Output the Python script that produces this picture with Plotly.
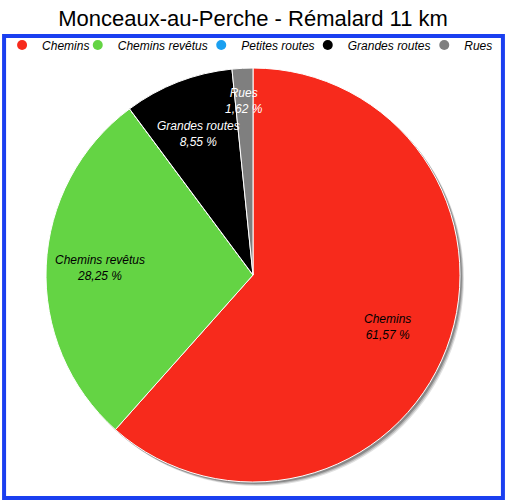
import math
import plotly.graph_objects as go

# données du parcours (pourcentages de la distance)
categories = ["Chemins", "Chemins revêtus", "Petites routes", "Grandes routes", "Rues"]
values = [61.57, 28.25, 0.0, 8.55, 1.62]
colors = ["#f72a1c", "#64d444", "#1a9ff0", "#000000", "#7f7f7f"]
text_colors = ["#000000", "#000000", "#ffffff", "#ffffff", "#ffffff"]
label_radius = [0.70, 0.745, 0.7, 0.73, 0.84]  # fraction du rayon pour les étiquettes
legend_px = [17, 98, 222, 329, 446]            # position des ronds de légende

title = "Monceaux-au-Perche - Rémalard 11 km"
font_family = "Liberation Sans, Arial, Helvetica, sans-serif"

W, H = 506, 500
M = dict(l=20, r=20, t=36, b=2)
plot_w = W - M["l"] - M["r"]
plot_h = H - M["t"] - M["b"]
dom_x = [(44 - M["l"]) / plot_w, (460 - M["l"]) / plot_w]
dom_y = [0.0346, 0.9307]

fig = go.Figure()

# ombre portée sous le camembert
for off, alpha in [(4, 0.12), (3, 0.18), (2, 0.25)]:
    fig.add_trace(go.Pie(
        values=[1], labels=["ombre"], textinfo="none", hoverinfo="skip",
        marker=dict(colors=[f"rgba(0,0,0,{alpha})"]), showlegend=False, sort=False,
        domain=dict(x=[dom_x[0] + off / plot_w, dom_x[1] + off / plot_w],
                    y=[dom_y[0] - off / plot_h, dom_y[1] - off / plot_h]),
    ))

fig.add_trace(go.Pie(
    labels=categories,
    values=values,
    textinfo="none",
    marker=dict(colors=colors, line=dict(color="#ffffff", width=1)),
    sort=False,
    direction="clockwise",
    rotation=0,
    showlegend=False,
    hoverinfo="label+percent",
    domain=dict(x=dom_x, y=dom_y),
))

# étiquettes des parts, placées sur l'angle médian de chaque part
cx = (dom_x[0] + dom_x[1]) / 2
cy = (dom_y[0] + dom_y[1]) / 2
r_px = min((dom_x[1] - dom_x[0]) * plot_w, (dom_y[1] - dom_y[0]) * plot_h) / 2
total = sum(values)
cum = 0.0
annotations = []
for c, v, tc, fr in zip(categories, values, text_colors, label_radius):
    if v <= 0:
        continue
    mid = (cum + v / 2) / total * 2 * math.pi
    cum += v
    annotations.append(dict(
        x=cx + math.sin(mid) * r_px * fr / plot_w,
        y=cy + math.cos(mid) * r_px * fr / plot_h,
        xref="paper", yref="paper", xanchor="center", yanchor="middle",
        showarrow=False,
        text=f"{c}<br>{v:.2f} %".replace(".", ","),
        align="center",
        font=dict(size=12, color=tc, style="italic", family=font_family),
    ))

# légende avec des ronds, une légende par entrée
legends = {}
for i, (c, col, lx) in enumerate(zip(categories, colors, legend_px)):
    key = "legend" if i == 0 else f"legend{i + 1}"
    fig.add_trace(go.Scatter(
        x=[None], y=[None], mode="markers", name=c, legend=key,
        marker=dict(symbol="circle", size=10, color=col),
    ))
    left = max(lx - 22, 0)
    legends[key] = dict(
        x=(left - M["l"]) / plot_w, xanchor="left",
        y=(H - M["b"] - 45) / plot_h, yanchor="middle", bgcolor="rgba(0,0,0,0)",
        font=dict(size=12, style="italic", color="#000000", family=font_family),
        itemwidth=30, borderwidth=0, itemclick=False, itemdoubleclick=False,
    )

fig.update_layout(
    width=W,
    height=H,
    margin=M,
    paper_bgcolor="#ffffff",
    plot_bgcolor="#ffffff",
    title=dict(text=title, x=0.5, xanchor="center",
               y=1 - 18 / H, yanchor="middle",
               font=dict(size=22, color="#000000", family=font_family)),
    xaxis=dict(visible=False, range=[0, 1]),
    yaxis=dict(visible=False, range=[0, 1]),
    annotations=annotations,
    shapes=[dict(type="rect", xref="paper", yref="paper",
                 x0=(2 - M["l"]) / plot_w, x1=(503 - M["l"]) / plot_w, y0=0, y1=1,
                 line=dict(color="#1a3ff0", width=4))],
    **legends,
)

fig.write_html("out.html", config=dict(displayModeBar=False),
               post_script="document.body.style.margin='0';")
